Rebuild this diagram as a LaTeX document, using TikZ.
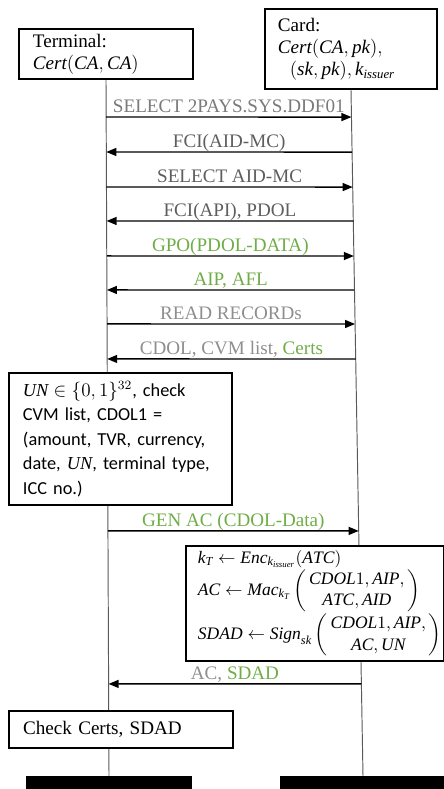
\documentclass[tikz,border=0pt]{standalone}
\usepackage{amsmath,amssymb}
\usepackage{fontspec}
\setmainfont{Liberation Serif}
\newfontfamily\notefont{Carlito}
\usepackage{tikz}
\usetikzlibrary{positioning,calc,arrows.meta}
\pgfdeclarelayer{bg}
\pgfsetlayers{bg,main}

\newcommand{\ident}[1]{\mathit{#1}}
\newcommand{\argpair}[2]{\left(\begin{array}{@{\,}c@{\,}}#1\\ #2\end{array}\right)}

\definecolor{msggreen}{HTML}{70AD47}
\definecolor{msggray}{HTML}{7A7A7A}
\definecolor{msgdark}{HTML}{5E5E5E}
\definecolor{msglight}{HTML}{8E8E8E}

\tikzset{
    party/.style={draw, line width=1.2pt, fill=white, align=left, inner xsep=8.8pt, inner ysep=0pt},
    note/.style={party, font=\notefont\fontsize{11.5}{15.3}\selectfont},
    lifeline/.style={line width=0.6pt, draw=black!65},
    msg/.style={line width=0.9pt, -{Triangle[length=6.3pt, width=5pt]}},
    msglabel/.style={midway, anchor=base, yshift=2.8pt, inner sep=0pt},
    endbar/.style={fill=black, minimum width=104.2pt, minimum height=9pt, anchor=north, inner sep=0pt},
}

\begin{document}
\begin{tikzpicture}[x=0.628pt, y=-0.628pt, font=\fontsize{12}{13.8}\selectfont]
\useasboundingbox (0,0) rectangle (443,789);

\node[party, minimum width=109.3pt, minimum height=31.4pt, text width=91.7pt] (term) at (106,54)
    {Terminal:\\ $\ident{Cert}(\ident{CA},\ident{CA})$};
\node[party, minimum width=108pt, minimum height=50.2pt, text width=91.7pt, inner xsep=8.2pt] (card) at (351,49)
    {Card:\\ $\ident{Cert}(\ident{CA},\ident{pk}),$\\ \hspace*{7.5pt}$(\ident{sk},\ident{pk}),\ident{k}_{\ident{issuer}}$};

\node[note, minimum width=140pt, minimum height=82.9pt, text width=122.5pt] (un) at (120.5,439)
    {$\ident{UN}\in\{0,1\}^{32}$, check\\ CVM list, CDOL1 =\\ (amount, TVR, currency,\\ date, $\ident{UN}$, terminal type,\\ ICC no.)};
\node[party, font=\fontsize{11}{13.5}\selectfont, minimum width=162pt, minimum height=72.2pt, text width=147pt, inner xsep=7.5pt] (comp) at (315,603.5)
    {\mbox{$\ident{k}_{\ident{T}}\leftarrow \ident{Enc}_{\ident{k}_{\ident{issuer}}}(\ident{ATC})$}\\
     \mbox{$\ident{AC}\leftarrow \ident{Mac}_{\ident{k}_{\ident{T}}}\argpair{\ident{CDOL}1,\ident{AIP},}{\ident{ATC},\ident{AID}}$}\\
     \mbox{$\ident{SDAD}\leftarrow \ident{Sign}_{\ident{sk}}\argpair{\ident{CDOL}1,\ident{AIP},}{\ident{AC},\ident{UN}}$}};
\node[party, line width=1pt, minimum width=140.7pt, minimum height=23.2pt, text width=123pt] (check) at (121,729.5)
    {Check Certs, SDAD};

\node[endbar] (tbar) at (109,776) {};
\node[endbar] (cbar) at (363,776) {};

\begin{pgfonlayer}{bg}
\draw[lifeline] (term.south) -- (tbar.north);
\draw[lifeline] (card.south) -- (cbar.north);
\end{pgfonlayer}

\foreach \y/\txt in {117/{\color{msggray}SELECT 2PAYS.SYS.DDF01},
                     187/{\color{msgdark}SELECT AID-MC},
                     256/{\color{msggreen}GPO(PDOL-DATA)},
                     324/{\color{msglight}READ RECORDs},
                     531/{\color{msggreen}GEN AC (CDOL-Data)}}{
    \coordinate (t\y) at ($(term.south)!(100,\y)!(tbar.north)$);
    \coordinate (c\y) at ($(card.south)!(355,\y)!(cbar.north)$);
    \draw[msg] (t\y) -- (c\y) node[msglabel] {\txt};
}

\foreach \y/\txt in {152/{\color{msgdark}FCI(AID-MC)},
                     221/{\color{msgdark}FCI(API), PDOL},
                     290/{\color{msggreen}AIP, AFL},
                     359/{\color{msglight}CDOL, CVM list, \textcolor{msggreen}{Certs}},
                     684/{\color{msglight}AC, \textcolor{msggreen}{SDAD}}}{
    \coordinate (t\y) at ($(term.south)!(100,\y)!(tbar.north)$);
    \coordinate (c\y) at ($(card.south)!(355,\y)!(cbar.north)$);
    \draw[msg] (c\y) -- (t\y) node[msglabel] {\txt};
}

\end{tikzpicture}
\end{document}
